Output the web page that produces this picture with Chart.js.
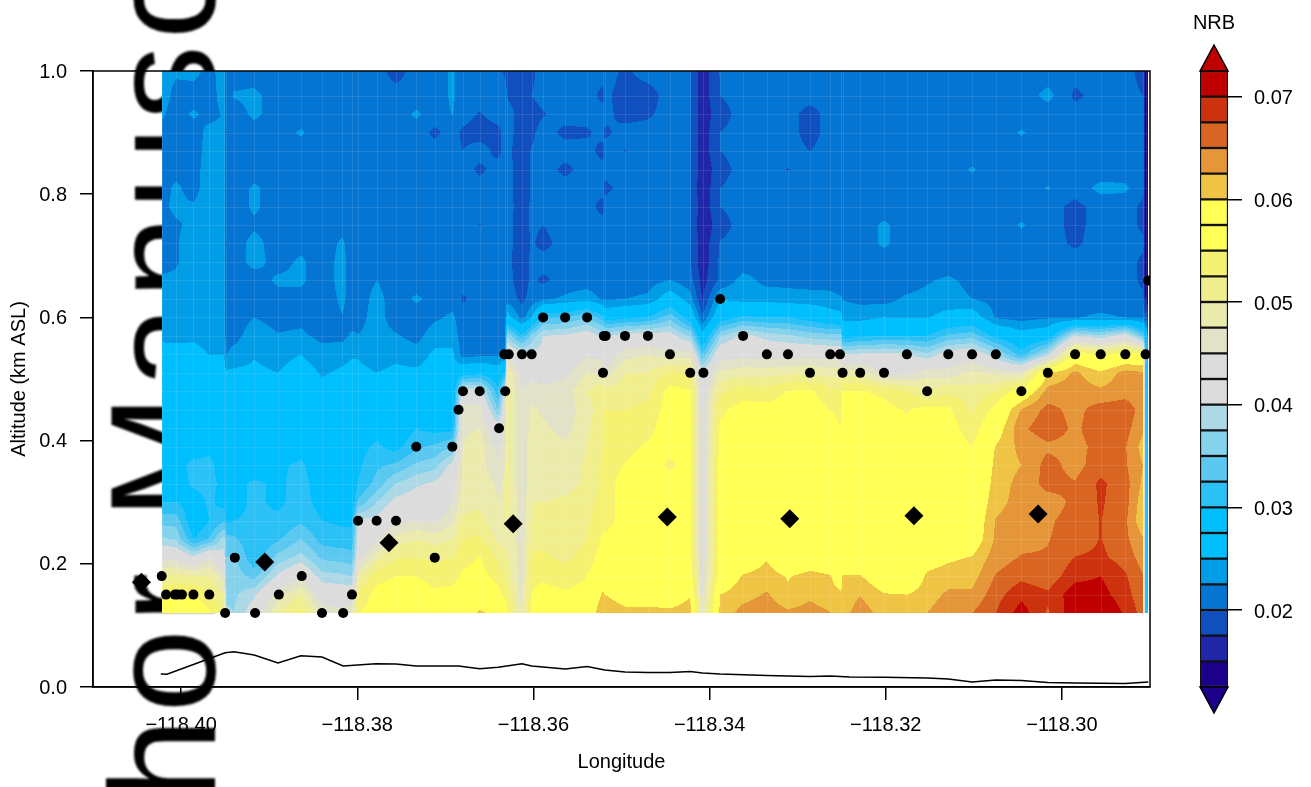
<!DOCTYPE html>
<html>
<head>
<meta charset="utf-8">
<title>NRB curtain</title>
<script src="https://cdn.jsdelivr.net/npm/chart.js@4"></script>
<style>
  html, body { margin: 0; padding: 0; background: #fff; overflow: hidden; }
  canvas { position: absolute; top: 0; }
  #mainChart { left: 0; }
  #barChart { left: 1190px; }
</style>
</head>
<body>
<canvas id="mainChart" width="1190" height="787"></canvas>
<canvas id="barChart" width="121" height="787"></canvas>
<script>
// Chart data //
const xTicks = [-118.40, -118.38, -118.36, -118.34, -118.32, -118.30];
const yTicks = [0, 0.2, 0.4, 0.6, 0.8, 1.0];
const nrbTicks = [0.02, 0.03, 0.04, 0.05, 0.06, 0.07];

const altitudes = [0.12, 0.15, 0.18, 0.21, 0.24, 0.27, 0.30, 0.33, 0.36, 0.39, 0.42, 0.45, 0.48, 0.51, 0.54, 0.57, 0.60, 0.63, 0.66, 0.69, 0.72, 0.75, 0.78, 0.81, 0.84, 0.87, 0.90, 0.93, 0.96, 1.0];

const longitudes = [-118.4022, -118.4006, -118.3986, -118.3968, -118.3951, -118.3949, -118.3940, -118.3917, -118.3890, -118.3864, -118.3840, -118.3817, -118.3806, -118.3799, -118.3778, -118.3756, -118.3733, -118.3712, -118.3692, -118.3680, -118.3661, -118.3640, -118.3632, -118.3630, -118.3613, -118.3602, -118.3589, -118.3564, -118.3539, -118.3521, -118.3519, -118.3496, -118.3470, -118.3445, -118.3422, -118.3408, -118.3388, -118.3362, -118.3335, -118.3311, -118.3286, -118.3263, -118.3251, -118.3249, -118.3229, -118.3202, -118.3176, -118.3153, -118.3129, -118.3102, -118.3075, -118.3046, -118.3016, -118.2985, -118.2956, -118.2928, -118.2908, -118.2905, -118.2902];

// NRB x 1000, one line per longitude, bottom to top
const nrbColumns = [
  [57,54,50,44,38,34,30,28,27,27,27,27,27,27,26,24.5,24,24,23,21.5,21.5,21.5,22,21.5,21.5,21.5,21.5,23,24,24],
  [56.5,55.3,51,44,37,34,30,28.5,28.5,28,27,27,27,27,26.5,24,23.5,23.5,23,22.2,22.2,22.2,23,23,21.5,21.5,21,21,21.5,23],
  [57,55.2,50,41,30,27.5,28.5,30.5,31,28,27,27,27,27,26,24.5,24,24,24,24,24,23,22.8,21.5,21.3,21,21,23,21,23.5],
  [55.5,53,50,45,32.5,30,30.5,31,31,29,27,27,27,27,24.9,24,24,24,24,24,24,24,24,24,24,23.8,23.5,21.5,21,21.5],
  [52.5,50,46,41,39,32,29,29,28,27.5,27,27,26.5,26,25,24.5,24.5,24,24,24,23,23,24,24,24,24,23,22.8,24,24],
  [38,37,36,35,33.5,29.5,28.5,28,27.5,27,27,27,26.5,25.5,22.4,21.5,21,21,21,21,19.8,21,21,21,21,21,19.8,21,21,21],
  [37.5,37,36.5,35.5,33,30,29,29,28,27.5,27,27,27,25.5,23.5,21.5,21,21,21,21,21,21,21,21,21,21,21,21,22.8,21],
  [42,39.5,34,30.5,30.5,30.5,30.5,30.5,28,27,27,27,27,25.5,24.8,24,22.5,21.5,21,23.5,23.5,22,23,23,21,21,21,23.2,23.2,21],
  [50,46.5,40.5,36,32,30.5,29.5,29.5,29.5,27.5,27,27,26.5,25,24,22.7,21.5,21.5,23,21.5,21,21,21,21,21,21,21,21,21,21],
  [53.5,50,44.5,38.5,35,32,31,31,30.5,29,27,27,27,26.5,25,23,21.8,21.5,23,23,21.5,21,21,21,21,21,22.9,21,21,21],
  [46.5,43,38.5,34.5,31.5,30,29,28.5,28,27,27,27,26,24.7,23.5,21.8,21,21,21,21,21,21,21,21,21,21,21,21,21,21],
  [46,42.5,38,34,31,29.5,28.5,28,28,28,27.5,27,26.5,25.5,24,21.8,22.4,23,23.5,23.5,23,21.5,21,21,21,21,21,21,21,21],
  [47,42.5,37.5,33.5,31,29.5,28,27.5,27,27,27,27,26.5,26,24.7,22.9,21.5,21.5,21,21,21,21,21,21,21,21,21,21,21,21],
  [55,53,49,43.5,41.5,40.5,33,30,29.5,29,27.5,27,26.5,25.5,24.8,22.6,21.5,21,21,21,21,21,21,21,21,21,21,21,21,21],
  [56,56,54,49,44,41,37.5,33.5,32,30.5,29,27.5,26,25,24,23.5,23.7,23.5,22.5,21,21,21,21,21,21,21,21,21,21,21],
  [58,56.5,55,52.5,48.5,44,41,37.5,33,29,27.5,27,26.5,25.5,24.5,22.8,21,21,21,21,21,21,21,21,21,21,21,21,21,19],
  [57.5,56.5,55,52.5,50,45,42,39.5,35.5,32,30,27,26.5,25.5,23.8,21.5,21,23,21,21,21,21,21,21,21,21,21,23,21,21],
  [57,55.5,54,52,49,44.5,41.5,40.5,36.5,33,29,27,26.5,26,25.5,24,22,21.5,21,21,21,21,21,21,21,21,19.5,21,21,21],
  [57.5,56,54,52.5,50,47,45,43.5,41,35,29,27,26,26,25.5,24,23,21.3,21,21,21,21,21,21,21,21,21,22.6,23,23],
  [58,57,55.5,54,52.5,50.5,49,48,48,47.5,47,46.5,42,28,21.5,21,21,19.7,21,21,21,21,21,21,21,20,19.5,21,21,21],
  [60.5,57.5,56,55.2,53,51,49.5,49,48.5,49,47.5,46,41.5,29,21.8,21,21,21,21,21,21,19.9,21,21,19.5,21,19,19.8,21,21],
  [59,56,54,52,49.5,48,47.5,47,45.5,44,42,35,30.5,27,22,21,21,21,21,21,21,21,21,21,21,19.3,19.3,21,21,21],
  [57.5,54,52,50.5,49,48.5,48,48,47.5,47,46,45,42,30,23,21,21,21,21,21,21,21,21,21,21,21,21,21,21,19.5],
  [55,53,51.5,50.5,50,50.5,51,51,51,51,51,51,50.5,50,45,37,26.5,21.5,20.8,20.8,20.8,20.8,20.8,20.8,20.8,20.8,20.8,20.8,19.9,19.5],
  [47.5,46.5,46,46,46,46,45.5,45.5,45,45,45,45,45,44,41,30.5,21.5,19.3,18.8,18.5,18.7,18.8,19,18.8,18.8,18.5,19,19.2,19,18.7],
  [56,55,54.5,53,51.5,50.5,50,49.5,49.5,50,48.5,48,46.5,43.5,41,36,25,21,20.5,20.5,20.3,20.4,20.3,20.3,20.3,20.2,19.5,18.8,20,19.5],
  [57,56,54.5,53,51.5,50.5,50,49,49,49,48,47,45.5,44,41,40,32,22,19.5,21,19.3,20,21,21,21,21,21,19.8,21,21],
  [57,55.5,53.5,52,51,50.5,50.5,49,48.5,48,46.5,46.5,46,44.5,42.5,40.5,32.5,23,21,20.2,21,21,21,21,19.4,21,19.4,21,21,21],
  [57,56,55,53.5,52.5,52,51.5,50.5,50.5,50,49.5,48.5,50,47.5,44.5,42,35,24,21.2,21,21,21,21,21,21,21,19.6,21,21,21],
  [62.5,60.5,57.5,56.5,55.5,54,53.5,53,53,52.5,52.5,52.5,52,47,44,39.5,31,22,21,21,21,21,19,21,21,19,21,21,19.3,21],
  [62,60,57.5,56.5,55.5,54,54,54,53.5,53.5,53,52.5,51,46,42,39.5,28,22,21,21,21,21,21,19.3,21,21,19.5,20.8,20.5,21],
  [60.8,58.5,57,56.5,56.5,56,56,56,55.2,54,53,52.5,51.5,50,46.5,41.5,29,22.5,21,21,21,21,21,21,21,19.9,21,19,19,19.6],
  [60.8,58.5,57,57,57,57,56.5,56,56.5,55.5,54,53,52,50,47.5,42,30,23,21.5,21,21,21,21,21,21,21,21,19.6,19,21],
  [60.5,58.5,57.5,57.5,57,57,57,56.5,54.5,56,57,56.5,56,53,46,41.5,34,27,22.6,21,21,21,21,21,21,21,21,21,21,21],
  [61,59.8,57,56,56,56,56,56,56,56,56,55.7,55.2,52,46.5,37,28,23.5,21,20.2,20.2,20.2,20.2,20.2,20.2,20.2,20.2,20.2,20.2,20.2],
  [47,45,44,43.5,43,43,43,43,43,43,43,43,42.5,41,33,26,20.5,17.3,16.5,15.8,15.8,15.5,15.8,15.5,15.8,16,16,16,16,16],
  [60.8,60,57,56.5,56.5,56.5,56.5,56.5,56.5,56,55.5,54.5,52,48,43.5,37,28,25,20.5,20.5,20.2,19,20,20,19,20,20,19,20,20.2],
  [63.5,61.5,60.3,57.5,56.5,56.5,56.5,56.5,56.5,56.5,56.5,56,54,49,44,41,30.5,24,23.5,21,21,21,21,21,21,21,21,21,21,21],
  [64,62.8,61,59.8,57.5,56.5,56.5,56.5,56.5,56.5,56.5,56,53.5,49,43.5,39,30,24,21.7,21,21,21,21,21,21,21,21,21,21,21],
  [63,60.5,59.8,57,56.5,56.5,56.5,56.5,56.5,56.5,56.5,56,55.2,49.5,43.5,38,30,23.5,21.8,21,21,21,21,21,19.9,21,21,21,21,21],
  [63.5,62,60.8,58,56.5,56.5,56.5,56.5,56.5,56.5,56,56,55.5,49.5,44,36.5,28.5,23.5,21.5,21,21,21,21,21,21,20,19,19,21,21],
  [62.6,61,60.2,57.5,56.5,56.5,56.5,56.5,56.5,56.5,55.8,55,53.5,49,43.5,36,26.5,23.3,21.5,21,21,21,21,21,21,21,21,21,21,21],
  [61.5,60.5,58,56,56,56,56,56,56,55.2,55,54.5,52.5,49,43,36,26,22.8,21,21,21,21,21,21,21,21,21,21,21,21],
  [61.5,61,60.2,57,56.5,56.5,56.5,56.5,56.5,56.5,56.5,56,55.2,49,40,28.5,24.2,22.4,21,21,21,21,21,21,21,21,21,21,21,21],
  [63.8,62.4,60.2,57.5,56.5,56.5,56.5,56.5,56.5,56.5,56.5,56,55.2,49,40.5,29.5,24,21.8,21,21,21,21,21,21,21,21,21,21,21,21],
  [61.5,60.2,57.5,56.5,56.5,56.5,56.5,56.5,56.5,56.5,56.5,55.8,54.5,44,41,30,25,21.5,21,21,23,23,21,21,21,21,21,21,21,21],
  [61.8,60,56.5,56.5,56.5,56.5,56.5,56.5,56.5,56.5,55.5,54.8,52.5,44,40.5,30,24.7,23,21,21,21,21,21,21,21,21,21,21,21,21],
  [62.5,61.3,60.5,58.5,56.5,56.5,56.5,56.5,56.5,56.5,56.5,56,50,46.5,38,30,24.8,23.5,22.2,21,21,21,21,21,21,21,21,21,21,21],
  [64.2,63,61.2,59.5,57,57,57,57,57,56.5,56.5,55.5,52,46,42,33,26,23.6,23,21,21,21,21,21,21,21,21,21,21,21],
  [65,63,61.5,60.2,57.5,57,57,56.5,55.5,55,53.5,52,51,48,43,34,27,22.5,21.7,21,21,21,21,21,22.8,21,21,21,21,21],
  [67.5,66.5,65.2,63.8,63,62.7,61.5,61,60.7,60.2,58,56,52.5,47,38,29,22.2,21.7,21,21,21,21,21,21,21,21,21,21,21,21],
  [71.2,69.3,66.8,65.2,64.2,64,63.7,63.5,62.5,63.3,64.5,62.8,56.5,46,31,26.5,21.5,21,21,21,21,22.8,21,21,21,21,22.8,21,21,21],
  [67.2,68,65.8,65.2,64.9,64.7,64,65.8,66,64.5,66.5,65.8,63.5,60,39,27.5,22.2,21,21,21,21,21,21,22.7,21,21,21,21,23.3,21],
  [72,71.5,69.2,67.6,66,65.8,65.5,65.2,64,64.2,64.5,64.2,63.8,63,57,40,22.3,21.5,21,21,19.6,19.3,19.3,21,21,21,20,21,19.5,21],
  [73,71,70,68,67.6,67.6,67.8,68,66.5,65.8,66.6,66.2,63,60.5,54,38,23,21,21,21,21,21,21,23.3,21,21,21,21,21,21],
  [69.5,68.5,67.8,66.5,65.6,65.5,66,66,65.3,65.2,66,66.4,64,63.5,56,42,22.4,21,21,21,21,21,21,23,21,21,21,21,21,21],
  [66.5,65.8,65.2,63.8,62.8,60.5,61,62,62.5,61.5,63,64,63,62.8,56,34,22,20.5,19.5,19.5,20.5,19.5,19.5,20.5,20.5,20.5,20.5,20.5,20,19],
  [30,30,30,30,30,30,30,30,30,30,30,30,30,31,32,28,20,15,14,14,14,14,14,14,14,14,14,14,14,14],
  [26,26,26,26,26,26,26,26,26,26,26,26,26,27,27,22,16,14,13.5,13.5,13.5,13.5,13.5,13.5,13.5,13.5,13.5,13.5,13.5,13.5],
];

const cloudLon = [-118.4022, -118.4017, -118.4007, -118.4004, -118.3999, -118.3986, -118.3968, -118.3950, -118.3939, -118.3916, -118.3889, -118.3863, -118.3840, -118.3816, -118.3806, -118.3799, -118.3778, -118.3756, -118.3733, -118.3712, -118.3692, -118.3685, -118.3680, -118.3661, -118.3639, -118.3632, -118.3633, -118.3628, -118.3613, -118.3602, -118.3589, -118.3564, -118.3539, -118.3520, -118.3518, -118.3521, -118.3496, -118.3470, -118.3445, -118.3422, -118.3407, -118.3388, -118.3362, -118.3335, -118.3311, -118.3286, -118.3263, -118.3252, -118.3249, -118.3229, -118.3202, -118.3176, -118.3153, -118.3129, -118.3102, -118.3075, -118.3046, -118.3016, -118.2985, -118.2956, -118.2928, -118.2905, -118.2902];
const cloudAlt = [0.18, 0.15, 0.15, 0.15, 0.15, 0.15, 0.15, 0.12, 0.21, 0.12, 0.15, 0.18, 0.12, 0.12, 0.15, 0.27, 0.27, 0.27, 0.39, 0.21, 0.39, 0.45, 0.48, 0.48, 0.42, 0.48, 0.54, 0.54, 0.54, 0.54, 0.60, 0.60, 0.60, 0.57, 0.57, 0.51, 0.57, 0.57, 0.54, 0.51, 0.51, 0.63, 0.57, 0.54, 0.54, 0.51, 0.54, 0.54, 0.51, 0.51, 0.51, 0.54, 0.48, 0.54, 0.54, 0.54, 0.48, 0.51, 0.54, 0.54, 0.54, 0.54, 0.66];

const diamondLon = [-118.4045, -118.3905, -118.3764, -118.3623, -118.3448, -118.3309, -118.3168, -118.3027];
const diamondAlt = [0.170, 0.203, 0.234, 0.265, 0.276, 0.273, 0.278, 0.281];

const groundLon = [-118.4023, -118.4016, -118.3950, -118.3940, -118.3917, -118.3890, -118.3864, -118.3840, -118.3816, -118.3779, -118.3756, -118.3733, -118.3685, -118.3661, -118.3640, -118.3613, -118.3602, -118.3564, -118.3539, -118.3519, -118.3496, -118.3470, -118.3445, -118.3422, -118.3408, -118.3388, -118.3335, -118.3311, -118.3286, -118.3263, -118.3241, -118.3202, -118.3153, -118.3129, -118.3102, -118.3075, -118.3046, -118.3016, -118.2985, -118.2928, -118.2902];
const groundAlt = [0.0211, 0.0206, 0.0557, 0.0573, 0.0519, 0.0390, 0.0508, 0.0487, 0.0341, 0.0378, 0.0373, 0.0341, 0.0341, 0.0297, 0.0320, 0.0378, 0.0341, 0.0292, 0.0333, 0.0276, 0.0244, 0.0235, 0.0235, 0.0252, 0.0227, 0.0211, 0.0187, 0.0179, 0.0170, 0.0179, 0.0162, 0.0157, 0.0146, 0.0130, 0.0081, 0.0114, 0.0106, 0.0073, 0.0065, 0.0057, 0.0081];

// Colour bar levels //
const nrbLevels = [0.0125, 0.015, 0.0175, 0.02, 0.0225, 0.025, 0.0275, 0.03, 0.0325, 0.035, 0.0375, 0.04, 0.0425, 0.045, 0.0475, 0.05, 0.0525, 0.055, 0.0575, 0.06, 0.0625, 0.065, 0.0675, 0.07, 0.0725];
const nrbColors = ["#1C008C", "#1F27A8", "#104FBE", "#0575D3", "#009DE6", "#00BFFF", "#00BFFF", "#2BC1F6", "#5AC8F0", "#84D2EC", "#ADD8E6", "#DCDCDC", "#DCDCDC", "#E2E2C8", "#EBEBAD", "#F1EF8D", "#F5F171", "#FFFF55", "#FFFF55", "#EFC445", "#E59638", "#D96522", "#CB320D", "#BF0000"];

const FONT = "'Liberation Sans', Arial, sans-serif";
Chart.defaults.font.family = FONT;
Chart.defaults.font.size = 20;
Chart.defaults.color = "#000";

const bandRgb = nrbColors.map((c) => [parseInt(c.slice(1, 3), 16), parseInt(c.slice(3, 5), 16), parseInt(c.slice(5, 7), 16)]);

function bandIndex(value) {
  for (let i = nrbColors.length - 1; i > 0; i--) {
    if (value >= nrbLevels[i]) return i;
  }
  return 0;
}

function findCell(list, v) {
  let i = 0;
  while (i < list.length - 2 && v > list[i + 1]) i++;
  return i;
}

// Filled contours, coloured pixel by pixel from the grid through the chart scales
const contourPlugin = {
  id: "contour",
  beforeDatasetsDraw(chart) {
    const ctx = chart.ctx;
    const xs = chart.scales.x;
    const ys = chart.scales.y;
    const x0 = Math.round(xs.getPixelForValue(longitudes[0]));
    const x1 = Math.round(xs.getPixelForValue(longitudes[longitudes.length - 1]));
    const y0 = Math.round(ys.getPixelForValue(altitudes[altitudes.length - 1]));
    const y1 = Math.round(ys.getPixelForValue(altitudes[0]));
    const w = x1 - x0;
    const h = y1 - y0;

    const img = new ImageData(w, h);
    for (let py = 0; py < h; py++) {
      const alt = ys.getValueForPixel(y0 + py + 0.5);
      const r = findCell(altitudes, alt);
      const tr = Math.min(1, Math.max(0, (alt - altitudes[r]) / (altitudes[r + 1] - altitudes[r])));
      for (let px = 0; px < w; px++) {
        const lon = xs.getValueForPixel(x0 + px + 0.5);
        const c = findCell(longitudes, lon);
        const tc = Math.min(1, Math.max(0, (lon - longitudes[c]) / (longitudes[c + 1] - longitudes[c])));
        const a = nrbColumns[c][r] * (1 - tc) + nrbColumns[c + 1][r] * tc;
        const b = nrbColumns[c][r + 1] * (1 - tc) + nrbColumns[c + 1][r + 1] * tc;
        const rgb = bandRgb[bandIndex((a * (1 - tr) + b * tr) / 1000)];
        const k = (py * w + px) * 4;
        img.data[k] = rgb[0];
        img.data[k + 1] = rgb[1];
        img.data[k + 2] = rgb[2];
        img.data[k + 3] = 255;
      }
    }
    const off = document.createElement("canvas");
    off.width = w;
    off.height = h;
    off.getContext("2d").putImageData(img, 0, 0);
    ctx.drawImage(off, x0, y0);

    // faint seams between the image cells
    ctx.save();
    ctx.strokeStyle = "rgba(255,255,255,0.10)";
    ctx.lineWidth = 1;
    ctx.beginPath();
    altitudes.forEach((a) => {
      const y = Math.round(ys.getPixelForValue(a)) + 0.5;
      ctx.moveTo(x0, y);
      ctx.lineTo(x1, y);
    });
    longitudes.forEach((l) => {
      const x = Math.round(xs.getPixelForValue(l)) + 0.5;
      ctx.moveTo(x, y0);
      ctx.lineTo(x, y1);
    });
    ctx.stroke();
    ctx.restore();
  },
};

// Big sideways stamp behind the plot, and the closed box around it
const framePlugin = {
  id: "frame",
  beforeDraw(chart) {
    const ctx = chart.ctx;
    ctx.save();
    ctx.translate(215, 1045);
    ctx.rotate(-Math.PI / 2);
    ctx.filter = "blur(0.8px)";
    ctx.letterSpacing = "6px";
    ctx.font = "150px " + FONT;
    ctx.fillStyle = "#000";
    ctx.textBaseline = "alphabetic";
    ctx.fillText("Author Manuscript", 0, 0);
    ctx.restore();
  },
  afterDatasetsDraw(chart) {
    const a = chart.chartArea;
    const ctx = chart.ctx;
    ctx.save();
    ctx.strokeStyle = "#000";
    ctx.lineWidth = 1.5;
    ctx.strokeRect(a.left, a.top, a.right - a.left, a.bottom - a.top);
    ctx.restore();
  },
};

const toPoints = (xs, ys) => xs.map((x, i) => ({ x: x, y: ys[i] }));

new Chart(document.getElementById("mainChart"), {
  type: "scatter",
  plugins: [framePlugin, contourPlugin],
  data: {
    datasets: [
      {
        label: "Ground",
        type: "line",
        data: toPoints(groundLon, groundAlt),
        borderColor: "#000",
        borderWidth: 1.5,
        pointRadius: 0,
        tension: 0,
        fill: false,
      },
      {
        label: "Cloud top",
        data: toPoints(cloudLon, cloudAlt),
        backgroundColor: "#000",
        borderWidth: 0,
        pointRadius: 5,
      },
      {
        label: "Mean",
        data: toPoints(diamondLon, diamondAlt),
        backgroundColor: "#000",
        borderWidth: 0,
        pointStyle: "rectRot",
        pointRadius: 9.5,
      },
    ],
  },
  options: {
    responsive: false,
    animation: false,
    layout: { padding: { top: 71, right: 40, left: 0, bottom: 0 } },
    plugins: { legend: { display: false }, tooltip: { enabled: false } },
    scales: {
      x: {
        type: "linear",
        min: -118.41,
        max: -118.29,
        afterFit: (s) => { s.height = 100; },
        afterBuildTicks: (s) => { s.ticks = xTicks.map((v) => ({ value: v })); },
        grid: { drawOnChartArea: false, tickLength: 13, color: "#000", lineWidth: 1.5 },
        border: { color: "#000", width: 1.5 },
        ticks: {
          padding: 13,
          maxRotation: 0,
          autoSkip: false,
          callback: (v) => "\u2212" + Math.abs(v).toFixed(2),
        },
        title: { display: true, text: "Longitude", padding: { top: 0, bottom: 13 } },
      },
      y: {
        min: 0,
        max: 1,
        afterFit: (s) => { s.width = 93; },
        afterBuildTicks: (s) => { s.ticks = yTicks.map((v) => ({ value: v })); },
        grid: { drawOnChartArea: false, tickLength: 13, color: "#000", lineWidth: 1.5 },
        border: { color: "#000", width: 1.5 },
        ticks: { padding: 13, labelOffset: 1, callback: (v) => v.toFixed(1) },
        title: { display: true, text: "Altitude (km ASL)", padding: { top: 7, bottom: 0 } },
      },
    },
  },
});

// Colour bar //
const arrowPlugin = {
  id: "arrows",
  afterDatasetsDraw(chart) {
    const a = chart.chartArea;
    const ctx = chart.ctx;
    const mid = (a.left + a.right) / 2;
    ctx.save();
    ctx.lineWidth = 1.5;
    ctx.strokeStyle = "#000";
    ctx.fillStyle = nrbColors[nrbColors.length - 1];
    ctx.beginPath();
    ctx.moveTo(a.left, a.top);
    ctx.lineTo(mid, a.top - 26);
    ctx.lineTo(a.right, a.top);
    ctx.closePath();
    ctx.fill();
    ctx.stroke();
    ctx.fillStyle = nrbColors[0];
    ctx.beginPath();
    ctx.moveTo(a.left, a.bottom);
    ctx.lineTo(mid, a.bottom + 26);
    ctx.lineTo(a.right, a.bottom);
    ctx.closePath();
    ctx.fill();
    ctx.stroke();
    ctx.fillStyle = "#000";
    ctx.font = "20px " + FONT;
    ctx.textAlign = "center";
    ctx.textBaseline = "middle";
    ctx.fillText("NRB", mid, 23.5);
    ctx.restore();
  },
};

new Chart(document.getElementById("barChart"), {
  type: "bar",
  plugins: [arrowPlugin],
  data: {
    labels: ["NRB"],
    datasets: nrbColors.map((c, i) => ({
      data: [[nrbLevels[i], nrbLevels[i + 1]]],
      backgroundColor: c,
      borderColor: "#111",
      borderWidth: 1.5,
      borderSkipped: false,
      categoryPercentage: 1,
      barPercentage: 1,
    })),
  },
  options: {
    responsive: false,
    animation: false,
    layout: { padding: { top: 71, bottom: 100, left: 10, right: 0 } },
    plugins: { legend: { display: false }, tooltip: { enabled: false } },
    scales: {
      x: { stacked: true, display: false },
      y: {
        position: "right",
        min: 0.0125,
        max: 0.0725,
        afterFit: (s) => { s.width = 83; },
        afterBuildTicks: (s) => { s.ticks = nrbTicks.map((v) => ({ value: v })); },
        grid: { drawOnChartArea: false, tickLength: 14, color: "#000", lineWidth: 1.5 },
        border: { display: false },
        ticks: { padding: 12, labelOffset: 2, callback: (v) => v.toFixed(2) },
      },
    },
  },
});
</script>
</body>
</html>
